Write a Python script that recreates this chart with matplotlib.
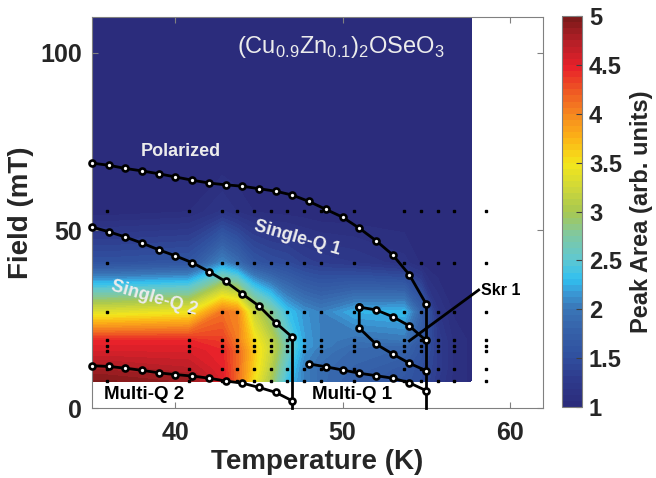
import numpy as np
import matplotlib
matplotlib.use('Agg')
import matplotlib.pyplot as plt
from matplotlib.colors import LinearSegmentedColormap, Normalize
from matplotlib.cm import ScalarMappable

plt.rcParams['font.family'] = 'Liberation Sans'
plt.rcParams['font.weight'] = 'bold'
plt.rcParams['axes.labelweight'] = 'bold'
plt.rcParams['mathtext.fontset'] = 'custom'
plt.rcParams['mathtext.rm'] = 'Liberation Sans'

# ---- heat map (peak area) on the measured grid ----
heat_T = [35, 35.9, 40.8, 42.8, 43.7, 44.7, 45.7, 46.7, 47.7, 48.7, 50.7, 53.7, 54.7, 55.7, 56.7, 57.7]
heat_H = [7.6, 11.0, 16.1, 17.5, 19.0, 27.0, 40.9, 55.3, 70, 110]
heat_Z = [
    [4.95, 4.95, 4.85, 4.55, 4.15, 3.5, 3.0, 2.35, 2.05, 1.9, 1.75, 1.6, 1.5, 1.25, 1.1, 1.05],
    [4.8, 4.8, 4.7, 4.5, 4.15, 3.6, 3.1, 2.45, 2.05, 1.9, 1.8, 1.65, 1.5, 1.3, 1.1, 1.05],
    [4.55, 4.55, 4.55, 4.45, 4.15, 3.65, 3.2, 2.6, 2.15, 2.0, 1.85, 1.8, 1.6, 1.3, 1.1, 1.05],
    [4.5, 4.5, 4.5, 4.4, 4.1, 3.6, 3.2, 2.65, 2.2, 2.05, 1.9, 1.85, 1.6, 1.3, 1.1, 1.05],
    [4.45, 4.45, 4.45, 4.35, 4.05, 3.55, 3.15, 2.6, 2.2, 2.05, 1.95, 2.0, 1.65, 1.3, 1.1, 1.05],
    [3.35, 3.35, 3.45, 4.1, 4.0, 3.2, 2.8, 2.35, 2.15, 2.05, 2.25, 2.3, 1.8, 1.2, 1.05, 1.0],
    [1.55, 1.55, 1.6, 2.1, 1.9, 1.6, 1.5, 1.45, 1.35, 1.3, 1.25, 1.15, 1.05, 1.0, 1.0, 1.0],
    [1.02, 1.02, 1.06, 1.2, 1.12, 1.06, 1.04, 1.03, 1.02, 1.0, 1.0, 1.0, 1.0, 1.0, 1.0, 1.0],
    [1.0] * 16,
    [1.0] * 16,
]

# measurement points (black dots)
dot_T = [35.9, 40.8, 42.8, 43.7, 44.7, 45.7, 46.7, 47.7, 48.7, 50.7, 53.7, 54.7, 55.7, 56.7, 58.6]
dot_H = [7.6, 11.0, 16.1, 17.5, 19.0, 27.0, 40.9, 55.3]

# ---- phase boundaries ----
pol_T = list(range(35, 56))
pol_H = [68.9, 68.3, 67.4, 66.7, 65.9, 65.0, 64.1, 63.3, 62.8, 62.4, 61.7, 61.0,
         59.9, 58.1, 55.9, 53.7, 50.6, 47.1, 43.1, 37.5, 29.3]
sq2_T = list(range(35, 48))
sq2_H = [50.9, 49.6, 48.1, 46.4, 44.5, 42.8, 40.9, 38.4, 35.6, 32.1, 28.7, 24.0, 19.9]
mq2_T = list(range(35, 48))
mq2_H = [11.9, 11.7, 11.2, 10.6, 9.9, 9.4, 9.0, 8.4, 7.6, 7.0, 5.8, 4.4, 2.0]
mq1_T = list(range(48, 56))
mq1_H = [12.4, 11.6, 10.7, 9.8, 9.1, 8.4, 7.1, 4.9]
skr_up_T = [51, 52, 53, 54, 55]
skr_up_H = [28.4, 27.6, 25.7, 23.1, 19.0]
skr_lo_T = [51, 51, 52, 53, 54, 55]
skr_lo_H = [28.4, 22.5, 18.0, 15.2, 12.6, 10.5]

cb_ticks = [1, 1.5, 2, 2.5, 3, 3.5, 4, 4.5, 5]

# jet-like palette as printed
cmap = LinearSegmentedColormap.from_list('peak', [
    (0.00, '#2b2c7c'), (0.0625, '#2e3a8c'), (0.125, '#30509f'), (0.1875, '#3560a8'),
    (0.25, '#3a78b8'), (0.29, '#3a9ad6'), (0.325, '#30c0f0'), (0.375, '#60c8d0'),
    (0.44, '#80c8a0'), (0.5, '#a8c850'), (0.5625, '#d0d838'), (0.625, '#f3e61b'),
    (0.69, '#fcb316'), (0.75, '#f68a1f'), (0.81, '#ef5a23'), (0.875, '#e8202a'),
    (0.94, '#b51f27'), (1.00, '#7d1a1a')], N=64)

fig = plt.figure(figsize=(6.56, 4.78), dpi=100)
ax = fig.add_axes([0.1402, 0.1464, 0.6875, 0.8180])
cax = fig.add_axes([0.8567, 0.1485, 0.0305, 0.818])

ax.contourf(heat_T, heat_H, heat_Z, levels=np.linspace(1, 5, 65), cmap=cmap,
            vmin=1, vmax=5, extend='both', zorder=1)

TT, HH = np.meshgrid(dot_T, dot_H)
ax.plot(TT.ravel(), HH.ravel(), 's', color='k', ms=1.8, zorder=2)

line_kw = dict(color='k', lw=2, marker='o', ms=4.3, mfc='white', mec='k',
               mew=1.9, zorder=4, clip_on=False)
ax.plot([47, 47], [sq2_H[-1], 0], color='k', lw=2, zorder=3, clip_on=False)
ax.plot([55, 55], [pol_H[-1], 0], color='k', lw=2, zorder=3, clip_on=False)
ax.plot(pol_T, pol_H, **line_kw)
ax.plot(sq2_T, sq2_H, **line_kw)
ax.plot(mq2_T, mq2_H, **line_kw)
ax.plot(mq1_T, mq1_H, **line_kw)
ax.plot(skr_up_T, skr_up_H, **line_kw)
ax.plot(skr_lo_T, skr_lo_H, **line_kw)
ax.plot([54.0, 58.15], [18.9, 33.2], color='k', lw=2, zorder=3)

# labels inside the plot
ax.text(49.9, 101.5, r'(Cu$_{\mathregular{0.9}}$Zn$_{\mathregular{0.1}}$)$_{\mathregular{2}}$OSeO$_{\mathregular{3}}$',
        color='#ececec', fontsize=17, fontweight='normal', ha='center', va='center', zorder=5)
ax.text(40.3, 72.2, 'Polarized', color='#ececec', fontsize=13, ha='center', va='center', zorder=5)
ax.text(47.3, 47.8, 'Single-Q 1', color='#ececec', fontsize=13, rotation=-16,
        ha='center', va='center', rotation_mode='anchor', zorder=5)
ax.text(38.7, 30.9, 'Single-Q 2', color='#ececec', fontsize=13, rotation=-16,
        ha='center', va='center', rotation_mode='anchor', zorder=5)
ax.text(38.1, 3.7, 'Multi-Q 2', color='k', fontsize=13.5, ha='center', va='center', zorder=5)
ax.text(50.6, 3.7, 'Multi-Q 1', color='k', fontsize=13.5, ha='center', va='center', zorder=5)
ax.text(58.3, 33.0, 'Skr 1', color='k', fontsize=11.5, ha='left', va='center', zorder=5)

ax.set_xlim(35, 62)
ax.set_ylim(0, 110)
ax.set_xticks([40, 50, 60])
ax.set_yticks([0, 50, 100])
ax.tick_params(direction='in', top=True, right=True, length=4, width=0.8,
               color='#808080', labelsize=18, labelcolor='#262626')
ax.tick_params(axis='x', pad=9)
ax.tick_params(axis='y', pad=7)
for s in ax.spines.values():
    s.set_color('#808080')
    s.set_linewidth(0.8)
ax.set_xlabel('Temperature (K)', fontsize=20, color='#262626', labelpad=3)
ax.set_ylabel('Field (mT)', fontsize=20, color='#262626', labelpad=5)

sm = ScalarMappable(norm=Normalize(1, 5), cmap=cmap)
cb = fig.colorbar(sm, cax=cax, ticks=cb_ticks)
cb.ax.set_yticklabels([f'{v:g}' for v in cb_ticks])
cb.ax.tick_params(direction='in', length=4, width=0.8, color='#404040',
                  labelsize=17, labelcolor='#262626', pad=5)
cb.outline.set_edgecolor('#808080')
cb.outline.set_linewidth(0.8)
cb.set_label('Peak Area (arb. units)', fontsize=17, color='#262626', labelpad=6)

fig.savefig('out.png', dpi=100)
